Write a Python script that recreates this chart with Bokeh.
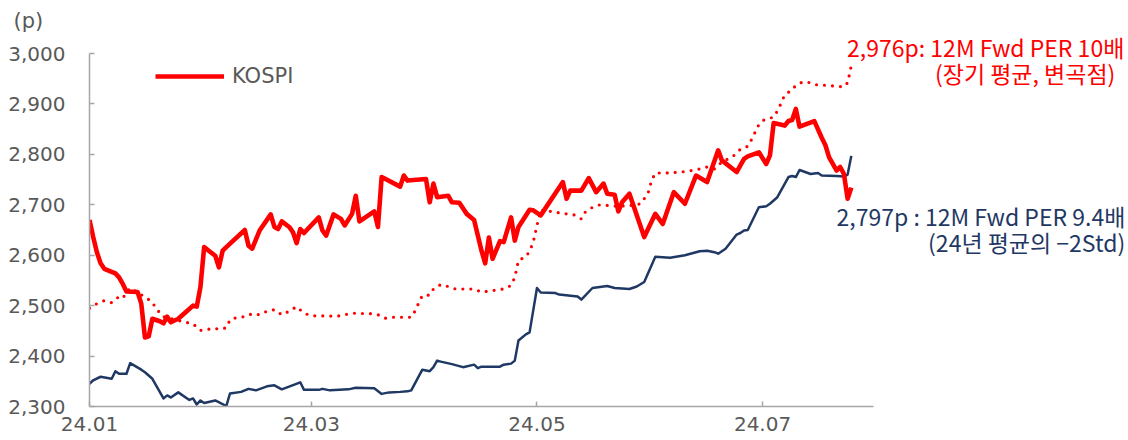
import pandas as pd
from bokeh.plotting import figure
from bokeh.models import (FixedTicker, NumeralTickFormatter, CustomJSTickFormatter,
                          Legend, LegendItem, Label, Range1d)
from bokeh.embed import file_html
from bokeh.resources import INLINE

YEAR = 2024

kospi_dates = ["01-02", "01-03", "01-04", "01-05", "01-06", "01-09", "01-10", "01-11", "01-12", "01-15",
               "01-16", "01-17", "01-18", "01-19", "01-21", "01-22", "01-23", "01-24", "01-26", "01-28",
               "01-30", "01-31", "02-01", "02-02", "02-05", "02-06", "02-07", "02-09", "02-13", "02-14",
               "02-15", "02-17", "02-20", "02-21", "02-22", "02-23", "02-25", "02-26", "02-27", "02-28",
               "02-29", "03-04", "03-05", "03-06", "03-08", "03-10", "03-11", "03-13", "03-14", "03-15",
               "03-19", "03-20", "03-21", "03-26", "03-27", "03-28", "04-02", "04-03", "04-04", "04-05",
               "04-08", "04-09", "04-11", "04-13", "04-15", "04-17", "04-18", "04-19", "04-20", "04-22",
               "04-23", "04-25", "04-26", "04-27", "04-30", "05-01", "05-03", "05-09", "05-10", "05-11",
               "05-14", "05-16", "05-18", "05-20", "05-21", "05-23", "05-24", "05-25", "05-27", "05-31",
               "06-03", "06-05", "06-08", "06-11", "06-14", "06-17", "06-20", "06-21", "06-25", "06-26",
               "06-27", "06-28", "07-01", "07-03", "07-04", "07-05", "07-08", "07-09", "07-10", "07-11",
               "07-12", "07-16", "07-18", "07-19", "07-20", "07-22", "07-23", "07-24", "07-25", "07-26"]
kospi_values = [2670, 2636, 2606, 2584, 2573, 2564, 2556, 2543, 2528, 2527,
                2504, 2437, 2439, 2474, 2469, 2465, 2478, 2467, 2474, 2487,
                2500, 2498, 2537, 2616, 2599, 2576, 2609, 2623, 2650, 2619,
                2613, 2649, 2681, 2656, 2652, 2667, 2656, 2646, 2624, 2652,
                2644, 2675, 2649, 2639, 2681, 2672, 2659, 2682, 2718, 2667,
                2687, 2656, 2755, 2736, 2758, 2748, 2751, 2705, 2742, 2715,
                2718, 2705, 2704, 2682, 2670, 2609, 2584, 2635, 2593, 2628,
                2626, 2675, 2629, 2656, 2690, 2689, 2679, 2745, 2712, 2728,
                2728, 2753, 2725, 2742, 2722, 2720, 2687, 2705, 2722, 2636,
                2682, 2662, 2725, 2702, 2758, 2745, 2808, 2788, 2765, 2778,
                2791, 2796, 2804, 2781, 2798, 2862, 2857, 2866, 2868, 2890,
                2855, 2866, 2833, 2818, 2794, 2768, 2775, 2761, 2712, 2734]

per10_dates = ["01-02", "01-04", "01-06", "01-08", "01-10", "01-11", "01-13", "01-17", "01-19", "01-20",
               "01-22", "01-28", "01-30", "02-01", "02-05", "02-06", "02-08", "02-09", "02-11", "02-13",
               "02-15", "02-17", "02-19", "02-21", "02-23", "02-25", "02-27", "02-29", "03-02", "03-09",
               "03-13", "03-18", "03-20", "03-22", "03-24", "03-29", "03-30", "03-31", "04-01", "04-03",
               "04-04", "04-06", "04-08", "04-10", "04-15", "04-17", "04-21", "04-23", "04-25", "04-26",
               "04-27", "04-29", "04-30", "05-01", "05-02", "05-03", "05-04", "05-06", "05-08", "05-10",
               "05-12", "05-14", "05-15", "05-17", "05-19", "05-24", "05-28", "05-30", "06-01", "06-02",
               "06-03", "06-06", "06-10", "06-12", "06-15", "06-17", "06-19", "06-21", "06-24", "06-26",
               "06-28", "06-29", "06-30", "07-01", "07-02", "07-05", "07-06", "07-07", "07-08", "07-10",
               "07-11", "07-13", "07-15", "07-17", "07-19", "07-22", "07-24", "07-25", "07-26"]
per10_values = [2495, 2504, 2510, 2506, 2518, 2515, 2535, 2517, 2507, 2494,
                2478, 2467, 2464, 2451, 2455, 2453, 2456, 2472, 2477, 2478,
                2484, 2482, 2489, 2492, 2482, 2489, 2498, 2485, 2480, 2479,
                2485, 2484, 2482, 2475, 2477, 2477, 2489, 2505, 2520, 2521,
                2533, 2542, 2538, 2533, 2533, 2527, 2531, 2533, 2540, 2556,
                2590, 2597, 2608, 2626, 2659, 2690, 2687, 2687, 2684, 2682,
                2680, 2672, 2685, 2695, 2700, 2697, 2699, 2702, 2722, 2748,
                2763, 2763, 2765, 2767, 2771, 2775, 2771, 2785, 2796, 2810,
                2816, 2829, 2844, 2859, 2867, 2874, 2886, 2901, 2918, 2928,
                2937, 2944, 2942, 2937, 2937, 2935, 2934, 2942, 2976]

per94_dates = ["01-02", "01-03", "01-05", "01-08", "01-09", "01-10", "01-12", "01-13", "01-16", "01-17",
               "01-19", "01-22", "01-23", "01-24", "01-26", "01-29", "01-30", "01-31", "02-01", "02-02",
               "02-05", "02-08", "02-09", "02-12", "02-14", "02-16", "02-19", "02-21", "02-23", "02-28",
               "02-29", "03-04", "03-05", "03-07", "03-12", "03-14", "03-19", "03-21", "03-23", "03-26",
               "03-28", "03-29", "04-01", "04-03", "04-04", "04-05", "04-06", "04-09", "04-10", "04-12",
               "04-15", "04-16", "04-17", "04-22", "04-23", "04-25", "04-26", "04-27", "04-29", "04-30",
               "05-02", "05-03", "05-07", "05-08", "05-13", "05-14", "05-17", "05-21", "05-23", "05-27",
               "05-29", "05-31", "06-03", "06-07", "06-11", "06-12", "06-15", "06-17", "06-19", "06-20",
               "06-22", "06-25", "06-26", "06-27", "06-28", "07-01", "07-03", "07-04", "07-06", "07-09",
               "07-10", "07-11", "07-12", "07-15", "07-17", "07-18", "07-22", "07-24", "07-25", "07-26"]
per94_values = [2345, 2352, 2359, 2355, 2370, 2365, 2365, 2386, 2373, 2368,
                2355, 2316, 2322, 2318, 2328, 2313, 2316, 2304, 2312, 2307,
                2312, 2301, 2326, 2329, 2335, 2332, 2340, 2342, 2334, 2348,
                2333, 2333, 2335, 2332, 2334, 2337, 2336, 2325, 2328, 2329,
                2330, 2332, 2373, 2370, 2378, 2391, 2389, 2384, 2382, 2378,
                2383, 2376, 2379, 2379, 2383, 2385, 2391, 2431, 2443, 2447,
                2535, 2526, 2525, 2522, 2518, 2512, 2535, 2539, 2535, 2533,
                2538, 2547, 2597, 2595, 2600, 2602, 2608, 2609, 2606, 2603,
                2613, 2641, 2644, 2649, 2650, 2695, 2697, 2702, 2715, 2755,
                2757, 2755, 2769, 2761, 2763, 2758, 2757, 2756, 2760, 2797]

x_tick_dates = ["01-02", "03-02", "05-02", "07-02"]
x_axis_end = "08-01"
y_ticks = [2300, 2400, 2500, 2600, 2700, 2800, 2900, 3000]

unit_label = "(p)"
label_per10 = ["2,976p: 12M Fwd PER 10배", "(장기 평균, 변곡점)"]
label_per94 = ["2,797p : 12M Fwd PER 9.4배", "(24년 평균의 −2Std)"]

RED = "#ff0000"
NAVY = "#1f3864"
GRAY_TXT = "#595959"
GRAY_AX = "#a6a6a6"
FONT_KR = "Noto Sans CJK KR"
FONT_AX = "DejaVu Sans"

W, H = 1128, 440
LEFT, BOTTOM, TOP = 89, 34, 34
AXIS_W, AXIS_H = 784, 353      # pixel length of the drawn axes


def to_dt(md_list):
    return pd.to_datetime([f"{YEAR}-{d}" for d in md_list])


def ms(ts):
    return pd.Timestamp(ts).value / 1e6


kx = to_dt(kospi_dates)
ax10 = to_dt(per10_dates)
ax94 = to_dt(per94_dates)

x0 = pd.Timestamp(f"{YEAR}-{x_tick_dates[0]}")
x1 = pd.Timestamp(f"{YEAR}-{x_axis_end}")
frame_w = W - LEFT
frame_h = H - BOTTOM - TOP
x_end = x0 + (x1 - x0) * (frame_w / AXIS_W)
y0, y1 = y_ticks[0], y_ticks[-1]
y_end = y0 + (y1 - y0) * (frame_h / AXIS_H)

p = figure(width=W, height=H, x_axis_type="datetime", output_backend="svg",
           toolbar_location=None, title=unit_label,
           x_range=Range1d(x0, x_end), y_range=Range1d(y0, y_end),
           min_border_left=LEFT, min_border_right=0, min_border_top=TOP,
           min_border_bottom=BOTTOM)
p.outline_line_color = None
p.xgrid.visible = False
p.ygrid.visible = False
p.background_fill_color = "white"
p.border_fill_color = "white"

p.title.align = "left"
p.title.offset = 13 - LEFT
p.title.standoff = 4
p.title.text_font = FONT_AX
p.title.text_font_size = "21px"
p.title.text_font_style = "normal"
p.title.text_color = GRAY_TXT

for ax in (p.xaxis[0], p.yaxis[0]):
    ax.axis_line_color = GRAY_AX
    ax.axis_line_width = 1.5
    ax.major_tick_line_color = GRAY_AX
    ax.major_tick_line_width = 1.5
    ax.major_tick_in = 5
    ax.major_tick_out = 0
    ax.minor_tick_line_color = None
    ax.major_label_text_color = GRAY_TXT
    ax.major_label_text_font = FONT_AX
    ax.major_label_text_font_size = "20px"

p.yaxis[0].ticker = FixedTicker(ticks=y_ticks)
p.yaxis[0].formatter = NumeralTickFormatter(format="0,0")
p.yaxis[0].major_label_standoff = 24
p.yaxis[0].bounds = (y0, y1)

p.xaxis[0].ticker = FixedTicker(ticks=[ms(t) for t in to_dt(x_tick_dates)])
p.xaxis[0].formatter = CustomJSTickFormatter(code="""
const d = new Date(tick);
const yy = String(d.getUTCFullYear() % 100).padStart(2, '0');
const mm = String(d.getUTCMonth() + 1).padStart(2, '0');
return yy + '.' + mm;
""")
p.xaxis[0].major_label_standoff = 10
p.xaxis[0].bounds = (ms(x0), ms(x1))

p.line(ax10, per10_values, line_color=RED, line_width=3.2, line_dash="0 8", line_cap="round")
p.line(ax94, per94_values, line_color=NAVY, line_width=2.5, line_join="round")
kospi = p.line(kx, kospi_values, line_color=RED, line_width=4.6, line_join="round")

legend = Legend(items=[LegendItem(label="KOSPI", renderers=[kospi])],
                location=(66, 318), orientation="horizontal",
                border_line_color=None, background_fill_alpha=0,
                padding=0, margin=0, spacing=0,
                glyph_width=69, glyph_height=20, label_standoff=8,
                label_text_font=FONT_AX, label_text_font_size="21px",
                label_text_color=GRAY_TXT, label_height=20)
p.add_layout(legend)

# annotations anchored at the last values
lx10, ly10 = ms(ax10[-1]), per10_values[-1]
lx94, ly94 = ms(ax94[-1]), per94_values[-1]
for txt, xo, yo in [(label_per10[0], 273, 19), (label_per10[1], 264, -7)]:
    p.add_layout(Label(x=lx10, y=ly10, x_offset=xo, y_offset=yo, text=txt,
                       text_align="right", text_baseline="middle", text_color=RED,
                       text_font=FONT_KR, text_font_size="23px"))
for txt, xo, yo in [(label_per94[0], 274, -60), (label_per94[1], 274, -86)]:
    p.add_layout(Label(x=lx94, y=ly94, x_offset=xo, y_offset=yo, text=txt,
                       text_align="right", text_baseline="middle", text_color=NAVY,
                       text_font=FONT_KR, text_font_size="23px"))

open("out.html", "w").write(file_html(p, INLINE))
